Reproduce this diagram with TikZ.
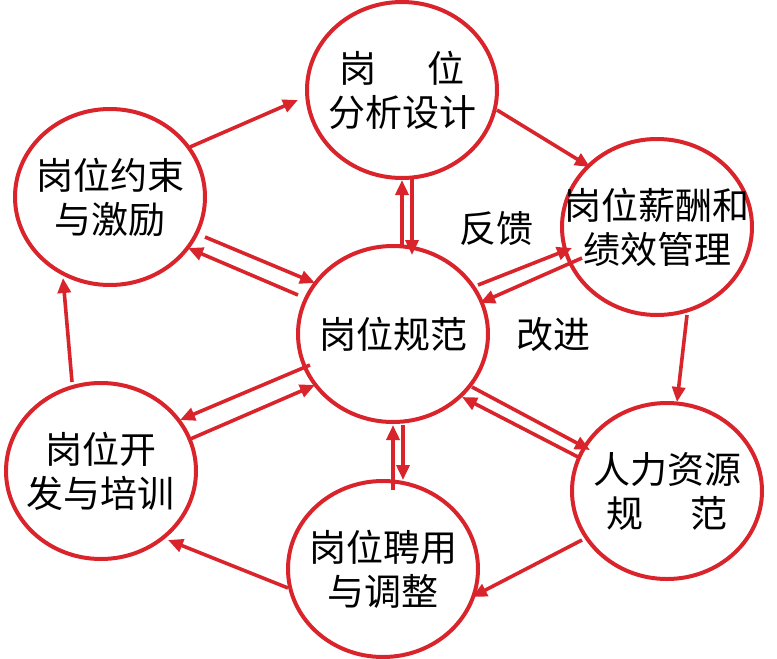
\documentclass[tikz,border=0pt]{standalone}
\usepackage{fontspec}
\newfontfamily\cjk{Noto Sans CJK SC}
\usetikzlibrary{arrows.meta,calc,shapes.geometric}
\definecolor{redc}{RGB}{218,36,44}
\tikzset{
  bubble/.style={ellipse,draw=redc,line width=4pt,minimum width=190pt,minimum height=176pt,inner sep=0pt,
    label={[lbl]center:#1}},
  lbl/.style={font=\cjk\fontsize{37}{44}\selectfont,inner sep=0pt,align=center},
  arr/.style={draw=redc,line width=3.6pt,-{Triangle[length=15pt,width=13pt]}}
}
\begin{document}
\begin{tikzpicture}[x=1pt,y=-1pt]
\useasboundingbox (0,0) rectangle (777,659);
\node[bubble={岗\hspace{1.4em}位\\分析设计}] (A) at (402,90) {};
\node[bubble={岗位约束\\与激励}] (B) at (110,197) {};
\node[bubble={岗位规范}] (C) at (393,334) {};
\node[bubble={岗位薪酬和\\绩效管理}] (D) at (657,227) {};
\node[bubble={人力资源\\规\hspace{1.27em}范}] (E) at (667,491) {};
\node[bubble={岗位聘用\\与调整}] (F) at (383,569) {};
\node[bubble={岗位开\\发与培训}] (G) at (101,471) {};
\node[lbl] (fb) at (496,229) {反馈};
\node[lbl] (gj) at (553,335) {改进};
% outer cycle
\draw[arr] ($(B)+(80,-50)$) -- ($(A)+(-104,10)$);
\draw[arr] ($(A)+(95,20)$) -- ($(D)+(-67,-60)$);
\draw[arr] ($(D)+(30,88)$) -- ($(E)+(10,-89)$);
\draw[arr] ($(E)+(-85,49)$) -- ($(F)+(89,28)$);
\draw[arr] ($(F)+(-95,19)$) -- ($(G)+(67,69)$);
\draw[arr] ($(G)+(-29,-89)$) -- ($(B)+(-47,81)$);
% C - A
\draw[arr] ($(C)+(9,-87)$) -- ($(A)+(0,90)$);
\draw[arr] ($(A)+(10,88)$) -- ($(C)+(19,-79)$);
% C - B
\draw[arr] ($(B)+(95,40)$) -- ($(C)+(-78,-51)$);
\draw[arr] ($(C)+(-95,-39)$) -- ($(B)+(78,51)$);
% C - D
\draw[arr] ($(C)+(85,-49)$) -- ($(D)+(-85,21)$);
\draw[arr] ($(D)+(-75,31)$) -- ($(C)+(87,-31)$);
% C - E
\draw[arr] ($(C)+(79,53)$) -- ($(E)+(-77,-41)$);
\draw[arr] ($(E)+(-87,-33)$) -- ($(C)+(69,63)$);
% C - F
\draw[arr] ($(F)+(10,-79)$) -- ($(C)+(0,91)$);
\draw[arr] ($(C)+(10,91)$) -- ($(F)+(20,-89)$);
% C - G
\draw[arr] ($(C)+(-83,31)$) -- ($(G)+(79,-51)$);
\draw[arr] ($(G)+(87,-31)$) -- ($(C)+(-78,51)$);
\end{tikzpicture}
\end{document}
